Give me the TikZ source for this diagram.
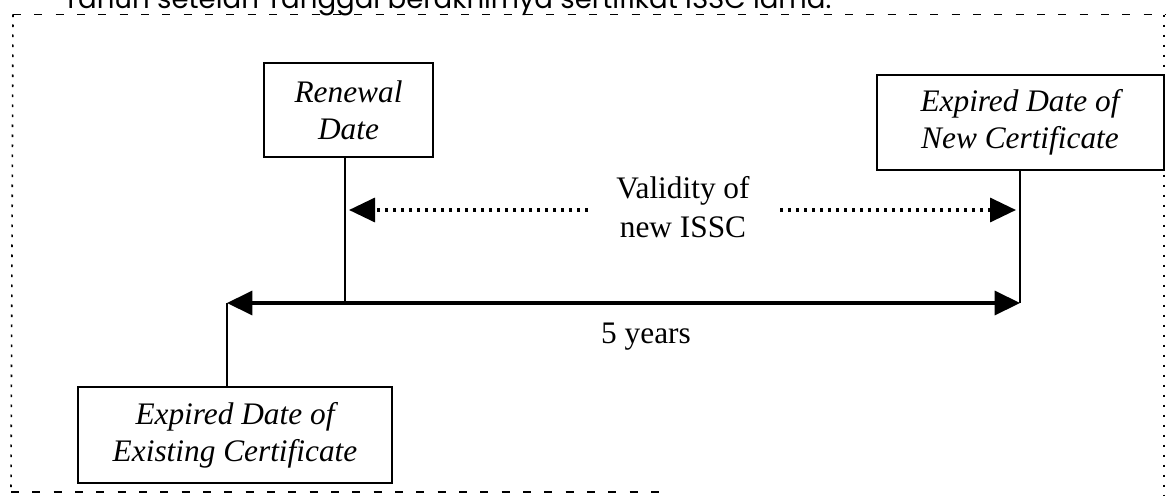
\documentclass[tikz,border=0pt]{standalone}
\usepackage{fontspec}
\setmainfont{Liberation Serif}
\newfontfamily\topfont{Poppins}
\usetikzlibrary{arrows.meta}
\begin{document}
\begin{tikzpicture}[x=0.75pt,y=-0.75pt,
  box/.style={draw, line width=1.5pt, align=center, inner sep=0pt, font=\fontsize{23.5pt}{27.75pt}\selectfont\itshape},
  lbl/.style={align=center, inner sep=0pt, font=\fontsize{23.5pt}{29.25pt}\selectfont},
  conn/.style={line width=1.5pt},
  thickarrow/.style={line width=2.6pt, {Triangle[length=19pt,width=18pt]}-{Triangle[length=19pt,width=18pt]}},
  dotarrow/.style={line width=2.6pt, dash pattern=on 2.4pt off 3.6pt, -{Triangle[length=19.5pt,width=18pt]}},
  framedash/.style={line width=1.2pt, dash pattern=on 6pt off 10pt},
  framedot/.style={line width=1.2pt, dash pattern=on 2pt off 5.5pt}]
\useasboundingbox (0,0) rectangle (1167,496);
\clip (0,0) rectangle (1167,496);
\fill[white] (0,0) rectangle (1167,496);

% cut-off line of text above the frame
\node[anchor=base west, inner sep=0pt] (toptext) at (63,8.5)
  {\resizebox{576pt}{!}{\topfont Tahun setelah Tanggal berakhirnya sertifikat ISSC lama.}};

% frame
\coordinate (ftl) at (13,14.5);
\coordinate (ftr) at (1166,14.5);
\coordinate (fbl) at (11,492);
\coordinate (fbe) at (662,492);
\coordinate (frt) at (1164,14.5);
\coordinate (frb) at (1164,496);
\draw[framedash] (ftl) -- (ftr);
\draw[framedot] (ftl) -- (fbl);
\draw[framedash] (fbl) -- (fbe);
\draw[framedot] (frt) -- (frb);

% boxes
\node[box, minimum width=126.75pt, minimum height=70.5pt] (ren) at (348.5,110) {Renewal\\Date};
\node[box, minimum width=215.25pt, minimum height=71.25pt] (newc) at (1020,122.5) {Expired Date of\\New Certificate};
\node[box, minimum width=235.5pt, minimum height=72pt] (exist) at (235,435) {Expired Date of\\Existing Certificate};

% labels
\node[lbl] (valid) at (683,207) {Validity of\\new ISSC};
\node[lbl] (years) at (646,337) {5 years};

% timeline
\coordinate (L) at (227,303);
\coordinate (R) at (1020,303);
\coordinate (M) at (345,303);
\draw[conn] (ren.south -| M) -- (M);
\draw[conn] (newc.south) -- (R);
\draw[conn] (exist.north -| L) -- (L);
\draw[thickarrow] (L) -- (R);

% validity arrows
\coordinate (dl) at (588,210);
\coordinate (dr) at (780,210);
\draw[dotarrow] (dl) -- ([xshift=3pt]M |- dl);
\draw[dotarrow] (dr) -- ([xshift=-3pt]newc.south |- dr);
\end{tikzpicture}
\end{document}
